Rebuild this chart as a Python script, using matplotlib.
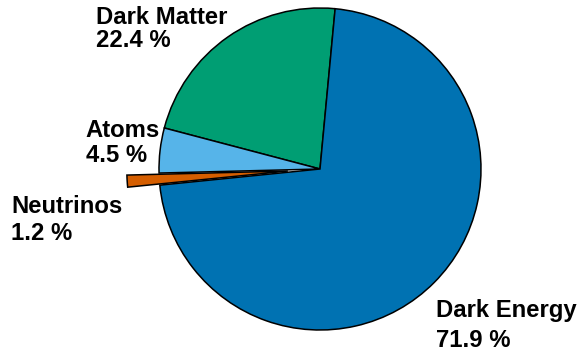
import matplotlib
matplotlib.use("Agg")
import matplotlib.pyplot as plt

# Composition of the universe
components = ["Dark Matter", "Atoms", "Neutrinos", "Dark Energy"]
percents = [22.4, 4.5, 1.2, 71.9]
colors = ["#009E73", "#56B4E9", "#D55E00", "#0072B2"]
explode = [0.0, 0.0, 0.2, 0.0]

W, H, DPI = 577, 356, 100
fig = plt.figure(figsize=(W / DPI, H / DPI), dpi=DPI)
ax = fig.add_axes([0, 0, 1, 1])

# pie geometry in pixels
cx, cy, R = 320, 169, 161

ax.pie(percents, colors=colors, explode=explode, startangle=84.6,
       counterclock=True, radius=1.0,
       wedgeprops=dict(edgecolor="black", linewidth=1.1))
ax.set_xlim(-cx / R, (W - cx) / R)
ax.set_ylim(-(H - cy) / R, cy / R)
ax.set_aspect("auto")
ax.axis("off")

plt.rcParams["font.family"] = ["Liberation Sans", "DejaVu Sans"]

# label anchor: left x and baselines of the two lines (pixels from top-left)
label_pos = {
    "Dark Matter": (96, 23.5, 47),
    "Atoms": (85.5, 137, 162),
    "Neutrinos": (11.5, 213, 240),
    "Dark Energy": (435.5, 317, 347),
}

for name, pct in zip(components, percents):
    x, b1, b2 = label_pos[name]
    for txt, b in ((name, b1), (f"{pct} %", b2)):
        fig.text(x / W, 1 - b / H, txt, fontsize=17.2, fontweight="bold",
                 ha="left", va="baseline", color="black")

fig.savefig("out.png", dpi=DPI)
